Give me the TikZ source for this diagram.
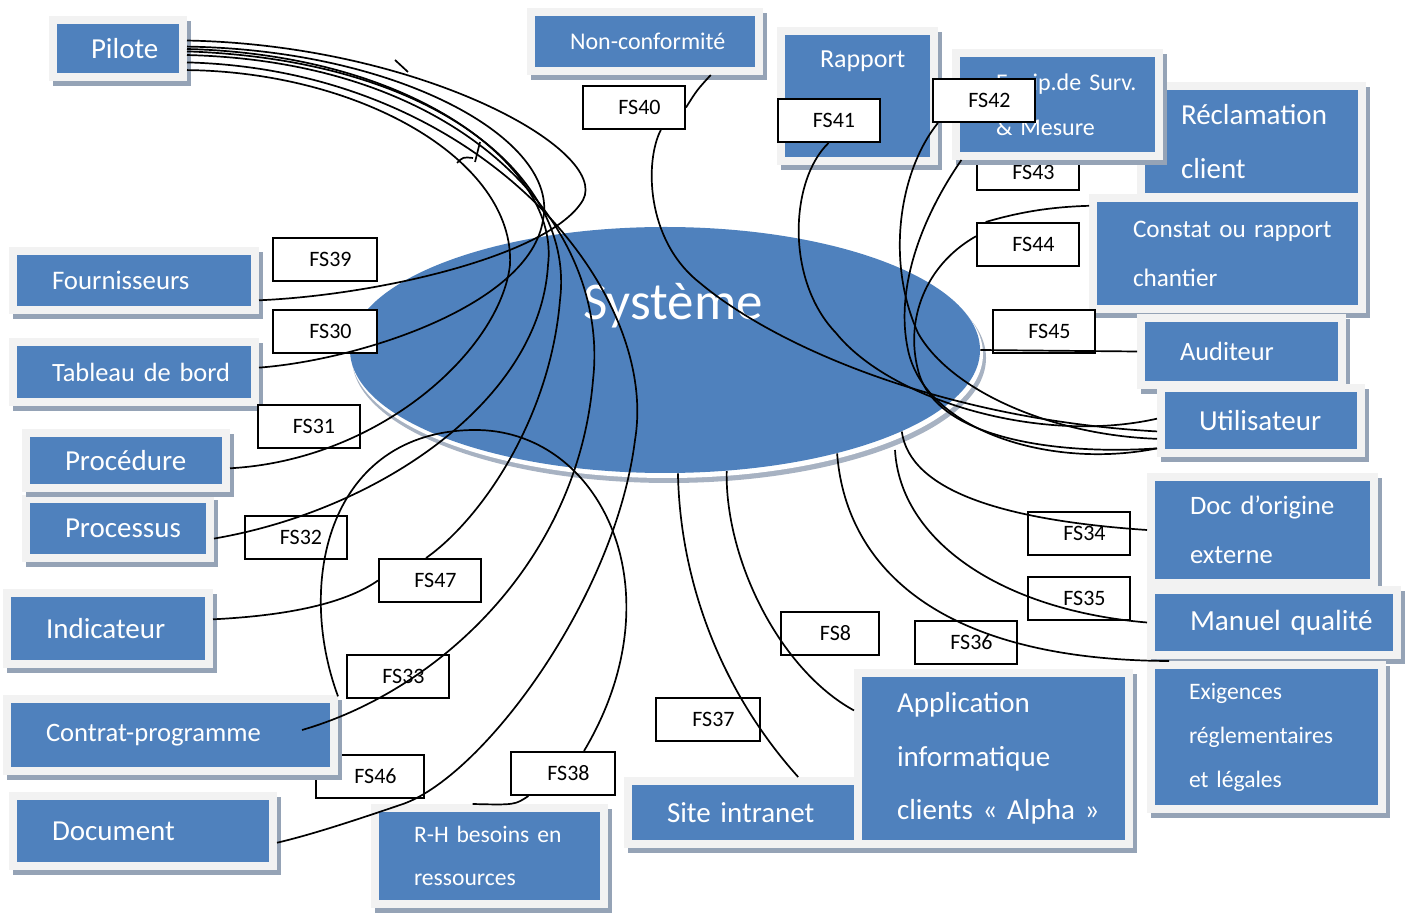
\documentclass[tikz,border=0pt]{standalone}
\usepackage{fontspec}
\setmainfont{Carlito}
\usetikzlibrary{shapes.geometric}
\definecolor{bleu}{HTML}{4F81BD}
\definecolor{cadre}{HTML}{F2F2F2}
\definecolor{ombre}{HTML}{95A3B6}
\definecolor{reflet}{HTML}{A7B2C2}
\newcommand\lig[1]{\makebox[0pt][l]{#1}}
\tikzset{
  bloc/.style={fill=bleu, draw=cadre, line width=4pt, text=white, inner sep=0pt, align=left,
    preaction={fill=ombre, draw=ombre, line width=4pt, transform canvas={xshift=2pt,yshift=-2.5pt}}},
  fs/.style={draw=black, fill=white, line width=1pt, minimum width=51pt, minimum height=21.5pt,
    inner sep=0pt, font=\fontsize{11}{13}\selectfont, execute at begin node={\hspace*{5.5pt}}},
  lien/.style={draw=black, line width=0.85pt},
}
\begin{document}
\begin{tikzpicture}[x=0.5pt,y=-0.5pt]  % ------ Systeme et flux FS --------
    \useasboundingbox (0,0) rectangle (1411,913);

    % ellipse centrale et son reflet
    \fill[reflet] (669,358) ellipse (317 and 125);
    \fill[white] (667,354) ellipse (316 and 124);
    \node[ellipse, fill=bleu, minimum width=315pt, minimum height=123pt, inner sep=0pt] (systeme) at (665,350) {};
    \node[text=white, font=\fontsize{26.5}{30}\selectfont] (titre) at (673,306) {Système};

    % etiquettes cachees sous les cadres
    \node[fs, minimum height=18pt] (fs43) at (1028,172) {FS43};
    \node[fs, minimum width=54pt] (fs46) at (370,776.5) {FS46};

    % cadres bleus
    \node[bloc, minimum width=65pt, minimum height=28.5pt, text width=27pt, font=\fontsize{14.5}{17}\selectfont] (pilote) at (118,49) {\lig{Pilote}};
    \node[bloc, minimum width=114pt, minimum height=29.5pt, text width=75pt, font=\fontsize{12}{14}\selectfont] (nonconf) at (645,41.5) {\lig{Non-conformité}};
    \node[bloc, minimum width=76.5pt, minimum height=65pt, text width=37.5pt, font=\fontsize{13}{37}\selectfont] (rapport) at (857.5,96) {\lig{Rapport}\\\lig{audit}};
    \node[bloc, minimum width=110.5pt, minimum height=55.5pt, text width=70.5pt, font=\fontsize{14.5}{27}\selectfont] (reclam) at (1251.5,141.5) {\lig{Réclamation}\\\lig{client}};
    \node[bloc, minimum width=101.5pt, minimum height=51.5pt, text width=61.5pt, font=\fontsize{12}{22.5}\selectfont] (equip) at (1057.5,104.5) {\lig{Equip.de Surv.}\\\lig{\& Mesure}};
    \node[bloc, minimum width=134.5pt, minimum height=55.5pt, text width=94.5pt, font=\fontsize{12.6}{24.5}\selectfont] (constat) at (1227.5,253.5) {\lig{Constat ou rapport}\\\lig{chantier}};
    \node[bloc, minimum width=100.5pt, minimum height=33.5pt, text width=61.5pt, font=\fontsize{13.2}{16}\selectfont] (auditeur) at (1241.5,351.5) {\lig{Auditeur}};
    \node[bloc, minimum width=100pt, minimum height=32.5pt, text width=62pt, font=\fontsize{14.5}{17}\selectfont] (utilis) at (1261,420.5) {\lig{Utilisateur}};
    \node[bloc, minimum width=111.5pt, minimum height=53pt, text width=72.5pt, font=\fontsize{13.3}{24.5}\selectfont] (docorig) at (1262.5,530) {\lig{Doc d’origine}\\\lig{externe}};
    \node[bloc, minimum width=123pt, minimum height=32.5pt, text width=84pt, font=\fontsize{14.6}{17}\selectfont] (manuel) at (1274,622.5) {\lig{Manuel qualité}};
    \node[bloc, minimum width=115.5pt, minimum height=72pt, text width=77.5pt, font=\fontsize{11.8}{22}\selectfont] (exig) at (1266.5,737) {\lig{Exigences}\\\lig{réglementaires}\\\lig{et légales}};
    \node[bloc, minimum width=115.5pt, minimum height=31.5pt, text width=76.5pt, font=\fontsize{14.5}{17}\selectfont] (site) at (743.5,812.5) {\lig{Site intranet}};
    \node[bloc, minimum width=135.5pt, minimum height=85.5pt, text width=96.5pt, font=\fontsize{14.5}{26.8}\selectfont] (appli) at (993.5,758.5) {\lig{Application}\\\lig{informatique}\\\lig{clients «~Alpha~»}};
    \node[bloc, minimum width=114.5pt, minimum height=48pt, text width=75.5pt, font=\fontsize{11.8}{21.5}\selectfont] (rh) at (489.5,856) {\lig{R-H besoins en}\\\lig{ressources}};
    \node[bloc, minimum width=130pt, minimum height=35pt, text width=91pt, font=\fontsize{14.5}{17}\selectfont] (document) at (143,831) {\lig{Document}};
    \node[bloc, minimum width=163.5pt, minimum height=36pt, text width=124.5pt, font=\fontsize{13.3}{16}\selectfont] (contrat) at (170.5,735) {\lig{Contrat-programme}};
    \node[bloc, minimum width=101pt, minimum height=35.5pt, text width=62pt, font=\fontsize{14.5}{17}\selectfont] (indic) at (108,628.5) {\lig{Indicateur}};
    \node[bloc, minimum width=92pt, minimum height=29pt, text width=53pt, font=\fontsize{14.5}{17}\selectfont] (processus) at (118,528.5) {\lig{Processus}};
    \node[bloc, minimum width=100pt, minimum height=27.5pt, text width=61pt, font=\fontsize{14.5}{17}\selectfont] (procedure) at (126,461) {\lig{Procédure}};
    \node[bloc, minimum width=121pt, minimum height=30pt, text width=82pt, font=\fontsize{13.2}{16}\selectfont] (tableau) at (134,372) {\lig{Tableau de bord}};
    \node[bloc, minimum width=121pt, minimum height=29.5pt, text width=82pt, font=\fontsize{13.4}{16}\selectfont] (fourn) at (134,280.5) {\lig{Fournisseurs}};

    % etiquettes FS
    \node[fs] (fs40) at (634,107.5) {FS40};
    \node[fs] (fs41) at (828.5,120.5) {FS41};
    \node[fs] (fs42) at (984,100.5) {FS42};
    \node[fs] (fs44) at (1028,244.5) {FS44};
    \node[fs] (fs45) at (1044,331.5) {FS45};
    \node[fs, minimum width=52pt] (fs39) at (325,259.5) {FS39};
    \node[fs, minimum width=52pt] (fs30) at (325,331.5) {FS30};
    \node[fs] (fs31) at (308.5,426.5) {FS31};
    \node[fs] (fs32) at (295.5,537.5) {FS32};
    \node[fs] (fs47) at (430,580.5) {FS47};
    \node[fs] (fs33) at (398,676.5) {FS33};
    \node[fs, minimum width=52pt] (fs38) at (563,773.5) {FS38};
    \node[fs, minimum width=52pt] (fs37) at (708,719.5) {FS37};
    \node[fs, minimum width=49pt] (fs8) at (830,633.5) {FS8};
    \node[fs] (fs36) at (966,642.5) {FS36};
    \node[fs] (fs34) at (1079,533.5) {FS34};
    \node[fs] (fs35) at (1079,598.5) {FS35};

    \coordinate (ctr) at (302,730);
    \coordinate (m0) at (895,450);

    % liens du pilote
    \draw[lien] (pilote.7) .. controls (420,45) and (610,150) .. (583,200) .. controls (551,255) and (380,295) .. (fourn.-9);
    \draw[lien] (pilote.2) .. controls (400,50) and (560,140) .. (543,220) .. controls (530,305) and (360,360) .. (tableau.2);
    \draw[lien] (pilote.-17) .. controls (360,72) and (515,160) .. (510,265) .. controls (500,350) and (380,460) .. (procedure.-4);
    \draw[lien] (pilote.0) .. controls (420,55) and (560,170) .. (548,265) .. controls (540,400) and (380,510) .. (processus.-6);
    \draw[lien] (pilote.-2) .. controls (440,60) and (575,180) .. (560,300) .. controls (550,420) and (480,520) .. (fs47.100);
    \draw[lien] (pilote.-5) .. controls (470,62) and (610,230) .. (593,380) .. controls (578,560) and (440,690) .. (ctr);
    \draw[lien] (pilote.-11) .. controls (480,70) and (660,290) .. (635,440) .. controls (615,600) and (480,780) .. (400,805) .. controls (350,822) and (310,835) .. (document.-5);
    \draw[lien] (395,60) -- (408,72);
    \draw[lien] (457,163) .. controls (463,157) .. (473,158);
    \draw[lien] (480,142) -- (475,162);

    % liens de droite
    \draw[lien] (nonconf.-27) .. controls (697,90) .. (fs40.east);
    \draw[lien] (fs40.-40) .. controls (645,160) and (645,240) .. (700,283) .. controls (780,350) and (950,420) .. (utilis.186);
    \draw[lien] (fs41.south) .. controls (790,180) and (785,280) .. (836,333) .. controls (890,400) and (1040,445) .. (utilis.179);
    \draw[lien] (fs42.206) .. controls (900,170) and (885,260) .. (918,333) .. controls (950,390) and (1050,435) .. (utilis.190);
    \draw[lien] (equip.210) .. controls (920,220) and (895,290) .. (908,350) .. controls (925,430) and (1050,470) .. (utilis.195);
    \draw[lien] (constat.161) .. controls (1050,207) and (1020,212) .. (fs44.152);
    \draw[lien] (fs44.171) .. controls (925,265) and (905,320) .. (918,370) .. controls (935,440) and (1060,455) .. (utilis.195);
    \draw[lien] (systeme.east) -- (auditeur.west);

    % liens du bas
    \draw[lien] (systeme.-84) .. controls (680,580) and (720,690) .. (site.33);
    \draw[lien] (systeme.-63) .. controls (725,560) and (780,670) .. (appli.161);
    \draw[lien] (systeme.-31) .. controls (845,560) and (930,660) .. (exig.142);
    \draw[lien] (m0) .. controls (900,540) and (1000,610) .. (manuel.west);
    \draw[lien] (systeme.-19) .. controls (910,490) and (1000,520) .. (docorig.west);

    % boucle et liens de gauche
    \draw[lien] (contrat.13) .. controls (295,580) and (330,432) .. (473,430) .. controls (600,428) and (680,590) .. (fs38.47);
    \draw[lien] (fs38.213) .. controls (515,805) .. (rh.108);
    \draw[lien] (indic.5) .. controls (300,615) and (350,600) .. (fs47.west);
\end{tikzpicture}
\end{document}
